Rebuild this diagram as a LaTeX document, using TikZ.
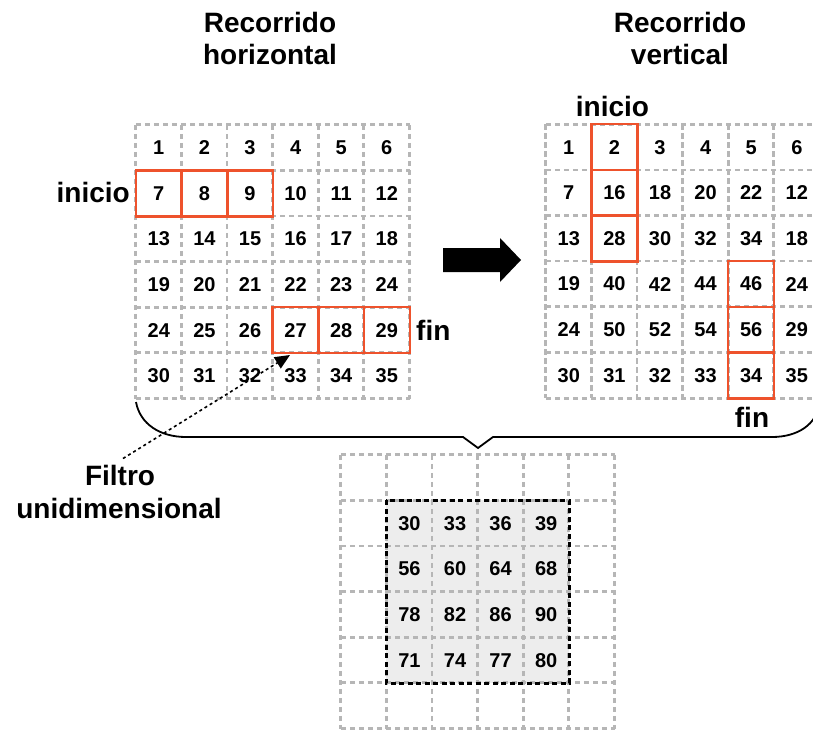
\documentclass[tikz,border=0pt]{standalone}
\usepackage{fontspec}
\setmainfont{Liberation Sans}
\usetikzlibrary{arrows.meta,backgrounds}
\definecolor{gridgray}{RGB}{182,182,182}
\definecolor{hlred}{RGB}{238,82,44}
\definecolor{lightfill}{RGB}{237,237,237}
\newcommand{\numfont}{\fontsize{20}{24}\selectfont\bfseries}
\newcommand{\lblfont}{\fontsize{28}{32}\selectfont\bfseries}
\tikzset{
  cell/.style={minimum size=45.6pt, inner sep=0pt, font=\numfont, text=black},
  gridline/.style={draw=gridgray, line width=2.7pt, dash pattern=on 5.5pt off 3.5pt},
  hl/.style={draw=hlred, solid, line width=2.4pt},
  numtxt/.style={font=\numfont, inner sep=0pt},
  lbl/.style={font=\lblfont, inner sep=0pt},
}
\begin{document}
\begin{tikzpicture}[x=1pt,y=-1pt]
\useasboundingbox (0,0) rectangle (813,730);
\clip (0,0) rectangle (813,730);

% titles
\node[lbl, anchor=base] (th1) at (270,33) {Recorrido};
\node[lbl, anchor=base] (th2) at (270,65) {horizontal};
\node[lbl, anchor=base] (tv1) at (680,33) {Recorrido};
\node[lbl, anchor=base] (tv2) at (680,65) {vertical};

% left grid
\foreach \i/\row in {1/{1,2,3,4,5,6},2/{7,8,9,10,11,12},3/{13,14,15,16,17,18},
    4/{19,20,21,22,23,24},5/{24,25,26,27,28,29},6/{30,31,32,33,34,35}}{
  \foreach \v [count=\j] in \row {
    \node[cell] (L-\i-\j) at ({136+(\j-0.5)*45.6},{125+(\i-0.5)*45.6}) {\v};
  }
}
% right grid
\foreach \i/\row in {1/{1,2,3,4,5,6},2/{7,16,18,20,22,12},3/{13,28,30,32,34,18},
    4/{19,40,42,44,46,24},5/{24,50,52,54,56,29},6/{30,31,32,33,34,35}}{
  \foreach \v [count=\j] in \row {
    \node[cell] (R-\i-\j) at ({546+(\j-0.5)*45.6},{124.5+(\i-0.5)*45.6}) {\v};
  }
}
% bottom grid
\foreach \i in {1,...,6}{
  \foreach \j in {1,...,6}{
    \node[cell] (B-\i-\j) at ({341+(\j-0.5)*45.6},{455+(\i-0.5)*45.6}) {};
  }
}
\begin{scope}[on background layer]
  \fill[lightfill] (B-2-2.north west) rectangle (B-5-5.south east);
\end{scope}
\foreach \i/\row in {2/{30,33,36,39},3/{56,60,64,68},4/{78,82,86,90},5/{71,74,77,80}}{
  \foreach \v [count=\j from 2] in \row {
    \node[numtxt] (n-\i-\j) at (B-\i-\j) {\v};
  }
}

% dashed grid lines
\foreach \g in {L,R,B}{
  \foreach \k in {1,...,6}{
    \draw[gridline] (\g-1-\k.north west) -- (\g-6-\k.south west);
    \draw[gridline] (\g-\k-1.north west) -- (\g-\k-6.north east);
  }
  \draw[gridline] (\g-1-6.north east) -- (\g-6-6.south east);
  \draw[gridline] (\g-6-1.south west) -- (\g-6-6.south east);
}

% highlighted cells
\foreach \n in {L-2-1,L-2-2,L-2-3,L-5-4,L-5-5,L-5-6,R-1-2,R-2-2,R-3-2,R-4-5,R-5-5,R-6-5}{
  \draw[hl] (\n.north west) rectangle (\n.south east);
}

% filter window
\draw[black, line width=2.6pt, dash pattern=on 5pt off 3.5pt]
  (B-2-2.north west) rectangle (B-5-5.south east);

% labels
\node[lbl, anchor=base east] (iniL) at (130,202) {inicio};
\node[lbl, anchor=base west] (finL) at (416,340) {fin};
\node[lbl, anchor=base] (iniR) at (612.5,117) {inicio};
\node[lbl, anchor=base] (finR) at (752,427) {fin};

% block arrow
\fill[black] (443,248) -- (500,248) -- (500,238) -- (521,260) -- (500,282) -- (500,272) -- (443,272) -- cycle;

% brace
\draw[line width=1.8pt, line join=miter]
  (136,402) .. controls (140,424) and (160,437) .. (186,437)
  -- (463,437) -- (478,448) -- (493,437) -- (772,437)
  .. controls (797,437) and (817,425) .. (820,402);

% filter label and dotted arrow
\node[lbl, anchor=base] (f1) at (120,485) {Filtro};
\node[lbl, anchor=base] (f2) at (119,518) {unidimensional};
\coordinate (tip) at (290,355);
\draw[line width=1.6pt, dash pattern=on 3pt off 3pt, -{Triangle[length=15pt,width=13pt]}]
  ([xshift=3pt,yshift=6pt]f1.north) -- (tip);
\end{tikzpicture}
\end{document}
